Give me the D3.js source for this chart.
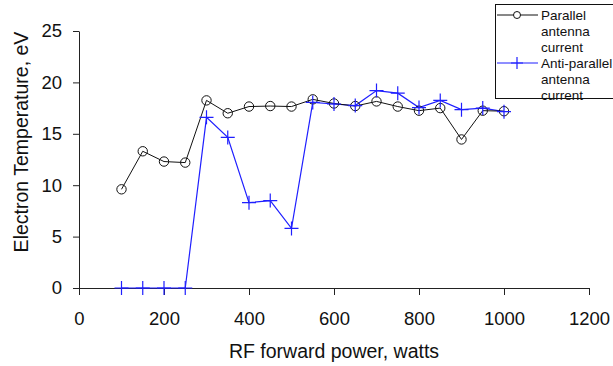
<!DOCTYPE html>
<html>
<head>
<meta charset="utf-8">
<script src="https://cdn.jsdelivr.net/npm/d3@7"></script>
<style>
  body { margin: 0; background: #fff; }
  svg { font-family: "Liberation Sans", Arial, sans-serif; }
</style>
</head>
<body>
<svg></svg>
<script>
const svgWidth = 613;
const svgHeight = 366;

// RF forward power (watts)
const power = [100, 150, 200, 250, 300, 350, 400, 450, 500, 550, 600, 650, 700, 750, 800, 850, 900, 950, 1000];
// electron temperature (eV)
const parallel = [9.6, 13.3, 12.3, 12.2, 18.25, 17.0, 17.65, 17.7, 17.65, 18.35, 17.95, 17.7, 18.15, 17.65, 17.25, 17.5, 14.45, 17.25, 17.2];
const antiParallel = [0, 0, 0, 0, 16.6, 14.65, 8.3, 8.5, 5.8, 18.05, 17.9, 17.75, 19.2, 18.95, 17.55, 18.25, 17.35, 17.5, 17.15];

const xTicks = [0, 200, 400, 600, 800, 1000, 1200];
const yTicks = [0, 5, 10, 15, 20, 25];

const margin = {left: 79, right: 24, top: 31, bottom: 78};

const svg = d3.select("svg")
  .attr("width", svgWidth)
  .attr("height", svgHeight);

const x = d3.scaleLinear().domain([0, 1200]).range([margin.left, svgWidth - margin.right]);
const y = d3.scaleLinear().domain([0, 25]).range([svgHeight - margin.bottom, margin.top]);

// axes
const xAxis = svg.append("g")
  .attr("transform", `translate(0,${y(0)})`)
  .call(d3.axisBottom(x).tickValues(xTicks).tickFormat(d3.format("d"))
    .tickSize(7).tickPadding(17).tickSizeOuter(0));
const yAxis = svg.append("g")
  .attr("transform", `translate(${x(0)},0)`)
  .call(d3.axisLeft(y).tickValues(yTicks).tickSize(6).tickPadding(11).tickSizeOuter(0));

[xAxis, yAxis].forEach(a => {
  a.select(".domain").attr("stroke", "#222");
  a.selectAll(".tick line").attr("stroke", "#222");
  a.selectAll(".tick text")
    .attr("font-size", 18.5)
    .attr("fill", "#111")
    .attr("font-family", "Liberation Sans, Arial, sans-serif");
});

// axis titles
svg.append("text")
  .attr("x", 334)
  .attr("y", 358)
  .attr("text-anchor", "middle")
  .attr("font-size", 19.5)
  .attr("fill", "#111")
  .text("RF forward power, watts");

svg.append("text")
  .attr("transform", `translate(28,142) rotate(-90)`)
  .attr("text-anchor", "middle")
  .attr("font-size", 19.5)
  .attr("fill", "#111")
  .text("Electron Temperature, eV");

const line = d3.line().x(d => x(d[0])).y(d => y(d[1]));
const blue = "#1f1fff";

// anti-parallel series (blue, crosses)
const apData = power.map((p, i) => [p, antiParallel[i]]);
svg.append("path")
  .datum(apData)
  .attr("fill", "none")
  .attr("stroke", blue)
  .attr("stroke-width", 1.2)
  .attr("d", line);

// parallel series (black, circles)
const pData = power.map((p, i) => [p, parallel[i]]);
svg.append("path")
  .datum(pData)
  .attr("fill", "none")
  .attr("stroke", "#111")
  .attr("stroke-width", 1)
  .attr("d", line);

svg.selectAll("circle.par")
  .data(pData)
  .enter()
  .append("circle")
  .attr("class", "par")
  .attr("cx", d => x(d[0]))
  .attr("cy", d => y(d[1]))
  .attr("r", 4.7)
  .attr("fill", "none")
  .attr("stroke", "#111")
  .attr("stroke-width", 1);

const crossSize = 7;
const cross = `M${-crossSize},0H${crossSize}M0,${-crossSize}V${crossSize}`;
svg.selectAll("path.anti")
  .data(apData)
  .enter()
  .append("path")
  .attr("class", "anti")
  .attr("transform", d => `translate(${x(d[0])},${y(d[1])})`)
  .attr("d", cross)
  .attr("fill", "none")
  .attr("stroke", blue)
  .attr("stroke-width", 1.2);

// legend
const legend = svg.append("g");
const legendLines = [
  ["Parallel", "antenna", "current"],
  ["Anti-parallel", "antenna", "current"]
];
const lineGap = 16;
legendLines.forEach((lines, s) => {
  const y0 = 15 + s * 48;
  const color = s === 0 ? "#111" : blue;
  legend.append("line")
    .attr("x1", 497).attr("x2", 538)
    .attr("y1", y0).attr("y2", y0)
    .attr("stroke", color).attr("stroke-width", 1);
  if (s === 0) {
    legend.append("circle")
      .attr("cx", 517).attr("cy", y0).attr("r", 3.5)
      .attr("fill", "white").attr("stroke", color);
  } else {
    legend.append("path")
      .attr("transform", `translate(517,${y0})`)
      .attr("d", "M-6,0H6M0,-6V6")
      .attr("stroke", color).attr("stroke-width", 1.2);
  }
  lines.forEach((t, k) => {
    legend.append("text")
      .attr("x", 541)
      .attr("y", y0 + k * lineGap + 5)
      .attr("font-size", 13.5)
      .attr("fill", "#111")
      .text(t);
  });
});
legend.append("rect")
  .attr("x", 495.5).attr("y", 4.5)
  .attr("width", 130).attr("height", 94)
  .attr("fill", "none")
  .attr("stroke", "#111")
  .attr("stroke-width", 1);
</script>
</body>
</html>
